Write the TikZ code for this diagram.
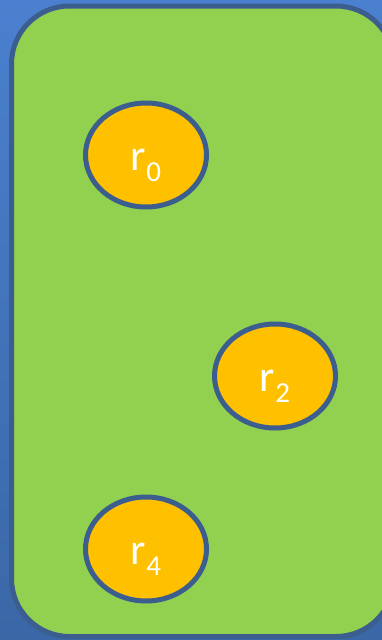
\documentclass[tikz,border=0pt]{standalone}
\usepackage{fontspec}
\setmainfont{Carlito}
\usetikzlibrary{shapes.geometric}

\definecolor{slideblue}{HTML}{4A80CF}
\definecolor{slidedark}{HTML}{3A67A6}
\definecolor{rimblue}{HTML}{3B5E8F}
\definecolor{boardgreen}{HTML}{92D050}
\definecolor{regorange}{HTML}{FFC000}

\newcommand{\reglabel}[1]{r\raisebox{-11pt}{\fontsize{29}{29}\selectfont #1}}

\begin{document}
\begin{tikzpicture}[x=1pt,y=-1pt,font=\fontsize{44}{44}\selectfont\color{white}]
\useasboundingbox (0,0) rectangle (382,640);
\clip (0,0) rectangle (382,640);
\shade[top color=slideblue,bottom color=slidedark] (0,0) rectangle (382,640);
\draw[rimblue,line width=5pt,fill=boardgreen,rounded corners=58pt] (11.5,6) rectangle (394,636.5);
\node[draw=rimblue,line width=5pt,fill=regorange,ellipse,minimum width=121pt,minimum height=104pt,text height=40pt,text depth=10pt] (r0) at (146,155) {\reglabel{0}};
\node[draw=rimblue,line width=5pt,fill=regorange,ellipse,minimum width=121pt,minimum height=104pt,text height=40pt,text depth=10pt] (r2) at (275,376) {\reglabel{2}};
\node[draw=rimblue,line width=5pt,fill=regorange,ellipse,minimum width=121pt,minimum height=104pt,text height=40pt,text depth=10pt] (r4) at (146,549) {\reglabel{4}};
\end{tikzpicture}
\end{document}
